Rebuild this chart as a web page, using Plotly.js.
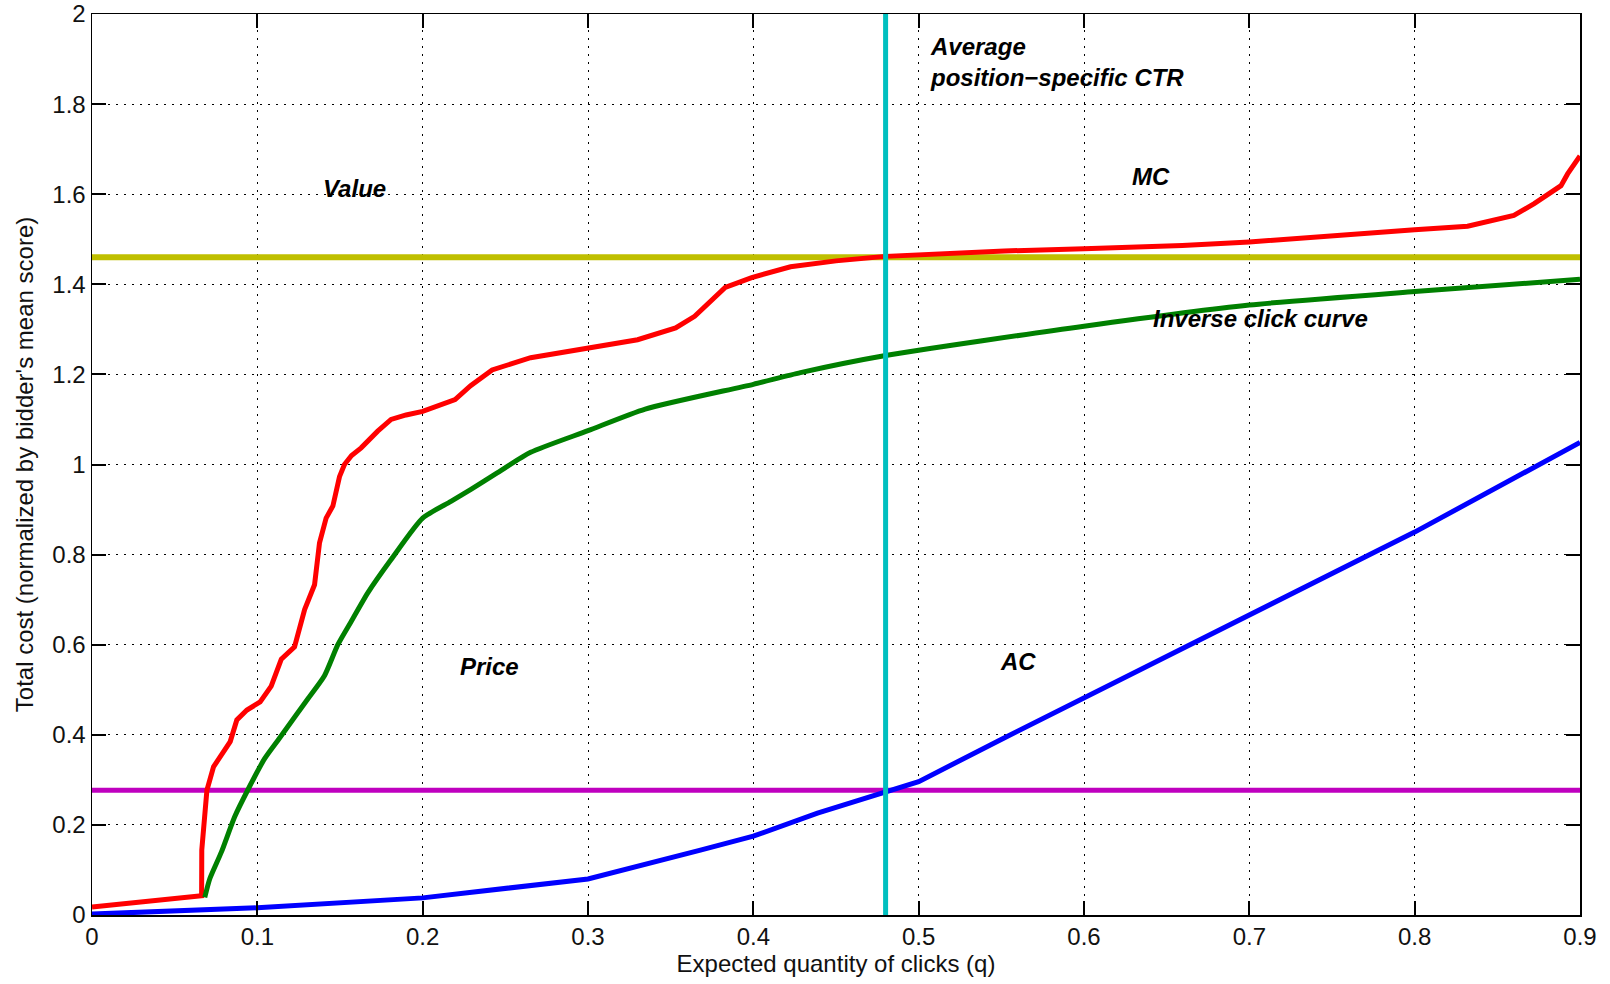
<!DOCTYPE html>
<html>
<head>
<meta charset="utf-8">
<script src="https://cdn.plot.ly/plotly-3.0.1.min.js"></script>
<style>html,body{margin:0;padding:0;background:#fff;}#chart{width:1610px;height:984px;}</style>
</head>
<body>
<div id="chart"></div>
<script>
// Marginal cost (MC) curve
var mcX = [0, 0.0655, 0.0663, 0.0664, 0.0674, 0.0684, 0.0695, 0.0735, 0.0783, 0.0836, 0.0876, 0.0937, 0.1017, 0.1084, 0.1145, 0.1225, 0.1286, 0.1346, 0.1376, 0.1416, 0.1457, 0.1497, 0.1527, 0.157, 0.1628, 0.1728, 0.1809, 0.19, 0.2, 0.2196, 0.229, 0.242, 0.2653, 0.3, 0.33, 0.353, 0.3645, 0.383, 0.399, 0.4225, 0.45, 0.48, 0.5518, 0.6, 0.6595, 0.7, 0.752, 0.8, 0.832, 0.86, 0.8723, 0.8885, 0.8925, 0.9];
var mcY = [0.018, 0.041, 0.043, 0.144, 0.196, 0.24, 0.277, 0.329, 0.356, 0.385, 0.433, 0.455, 0.473, 0.508, 0.568, 0.595, 0.678, 0.733, 0.826, 0.881, 0.908, 0.973, 1.0, 1.02, 1.037, 1.074, 1.1, 1.11, 1.118, 1.144, 1.175, 1.21, 1.237, 1.257, 1.277, 1.303, 1.329, 1.393, 1.415, 1.439, 1.452, 1.462, 1.474, 1.479, 1.486, 1.494, 1.509, 1.521, 1.529, 1.553, 1.579, 1.619, 1.645, 1.685];
// Inverse click curve
var invX = [0.0682, 0.0712, 0.0783, 0.0863, 0.0943, 0.1044, 0.1125, 0.1225, 0.1306, 0.1406, 0.1487, 0.1567, 0.1668, 0.1809, 0.2, 0.2171, 0.2292, 0.2453, 0.2653, 0.3, 0.3346, 0.4, 0.4285, 0.48, 0.6, 0.7, 0.8, 0.9];
var invY = [0.039, 0.08, 0.14, 0.218, 0.278, 0.347, 0.388, 0.439, 0.48, 0.531, 0.6, 0.651, 0.715, 0.789, 0.881, 0.918, 0.945, 0.982, 1.027, 1.075, 1.123, 1.178, 1.204, 1.242, 1.307, 1.354, 1.384, 1.411];
// Average cost (AC) curve
var acX = [0, 0.1, 0.2, 0.3, 0.368, 0.4, 0.4388, 0.481, 0.5, 0.549, 0.6095, 0.7, 0.8, 0.9];
var acY = [0.002, 0.016, 0.038, 0.08, 0.144, 0.175, 0.226, 0.274, 0.296, 0.388, 0.4995, 0.665, 0.85, 1.049];
// Reference levels
var valueLevel = 1.46;
var priceLevel = 0.277;
var ctrQ = 0.48;
var xRange = [0, 0.9];
var yRange = [0, 2];

var FONT = 'Liberation Sans, Arial, Helvetica, sans-serif';

var traces = [
  {x: xRange, y: [valueLevel, valueLevel], mode: 'lines', line: {color: '#bfbf00', width: 6}, name: 'Value'},
  {x: xRange, y: [priceLevel, priceLevel], mode: 'lines', line: {color: '#bf00bf', width: 5}, name: 'Price'},
  {x: mcX, y: mcY, mode: 'lines', line: {color: '#ff0000', width: 5}, name: 'MC'},
  {x: invX, y: invY, mode: 'lines', line: {color: '#008000', width: 5, shape: 'spline', smoothing: 0.6}, name: 'Inverse click curve'},
  {x: acX, y: acY, mode: 'lines', line: {color: '#0000ff', width: 5}, name: 'AC'},
  {x: [ctrQ, ctrQ], y: yRange, mode: 'lines', line: {color: '#00bfbf', width: 5}, name: 'Average CTR'}
];

function ann(x, y, text) {
  return {x: x, y: y, xref: 'x', yref: 'y', text: text, showarrow: false,
    xanchor: 'left', yanchor: 'middle', align: 'left',
    font: {family: FONT, size: 24, color: '#000'}};
}

var layout = {
  width: 1610, height: 984,
  margin: {l: 92, r: 30, t: 14, b: 69},
  paper_bgcolor: '#fff', plot_bgcolor: '#fff',
  showlegend: false,
  font: {family: FONT, size: 24, color: '#111'},
  xaxis: {
    range: xRange, dtick: 0.1, tick0: 0,
    showgrid: true, gridcolor: '#000', gridwidth: 1, griddash: '2px,6px',
    zeroline: false, showline: true, linecolor: '#000', linewidth: 1.5,
    mirror: 'ticks', ticks: 'inside', ticklen: 14, tickwidth: 2, tickcolor: '#000',
    tickfont: {family: FONT, size: 24, color: '#111'},
    title: {text: 'Expected quantity of clicks (q)', font: {family: FONT, size: 24, color: '#111'}, standoff: 3}
  },
  yaxis: {
    range: yRange, dtick: 0.2, tick0: 0,
    showgrid: true, gridcolor: '#000', gridwidth: 1, griddash: '2px,6px',
    zeroline: false, showline: true, linecolor: '#000', linewidth: 1.5,
    mirror: 'ticks', ticks: 'inside', ticklen: 14, tickwidth: 2, tickcolor: '#000',
    tickfont: {family: FONT, size: 24, color: '#111'},
    ticklabeloverflow: 'allow',
    title: {text: "Total cost (normalized by bidder's mean score)", font: {family: FONT, size: 24, color: '#111'}, standoff: 12}
  },
  annotations: [
    ann(0.1384, 1.612, '<b><i>Value</i></b>'),
    ann(0.628, 1.639, '<b><i>MC</i></b>'),
    ann(0.6406, 1.3245, '<b><i>Inverse click curve</i></b>'),
    ann(0.2215, 0.552, '<b><i>Price</i></b>'),
    ann(0.548, 0.563, '<b><i>AC</i></b>'),
    ann(0.5055, 1.894, '<b><i>Average<br>position\u2212specific CTR</i></b>')
  ]
};

Plotly.newPlot('chart', traces, layout, {displayModeBar: false, staticPlot: true});
</script>
</body>
</html>
